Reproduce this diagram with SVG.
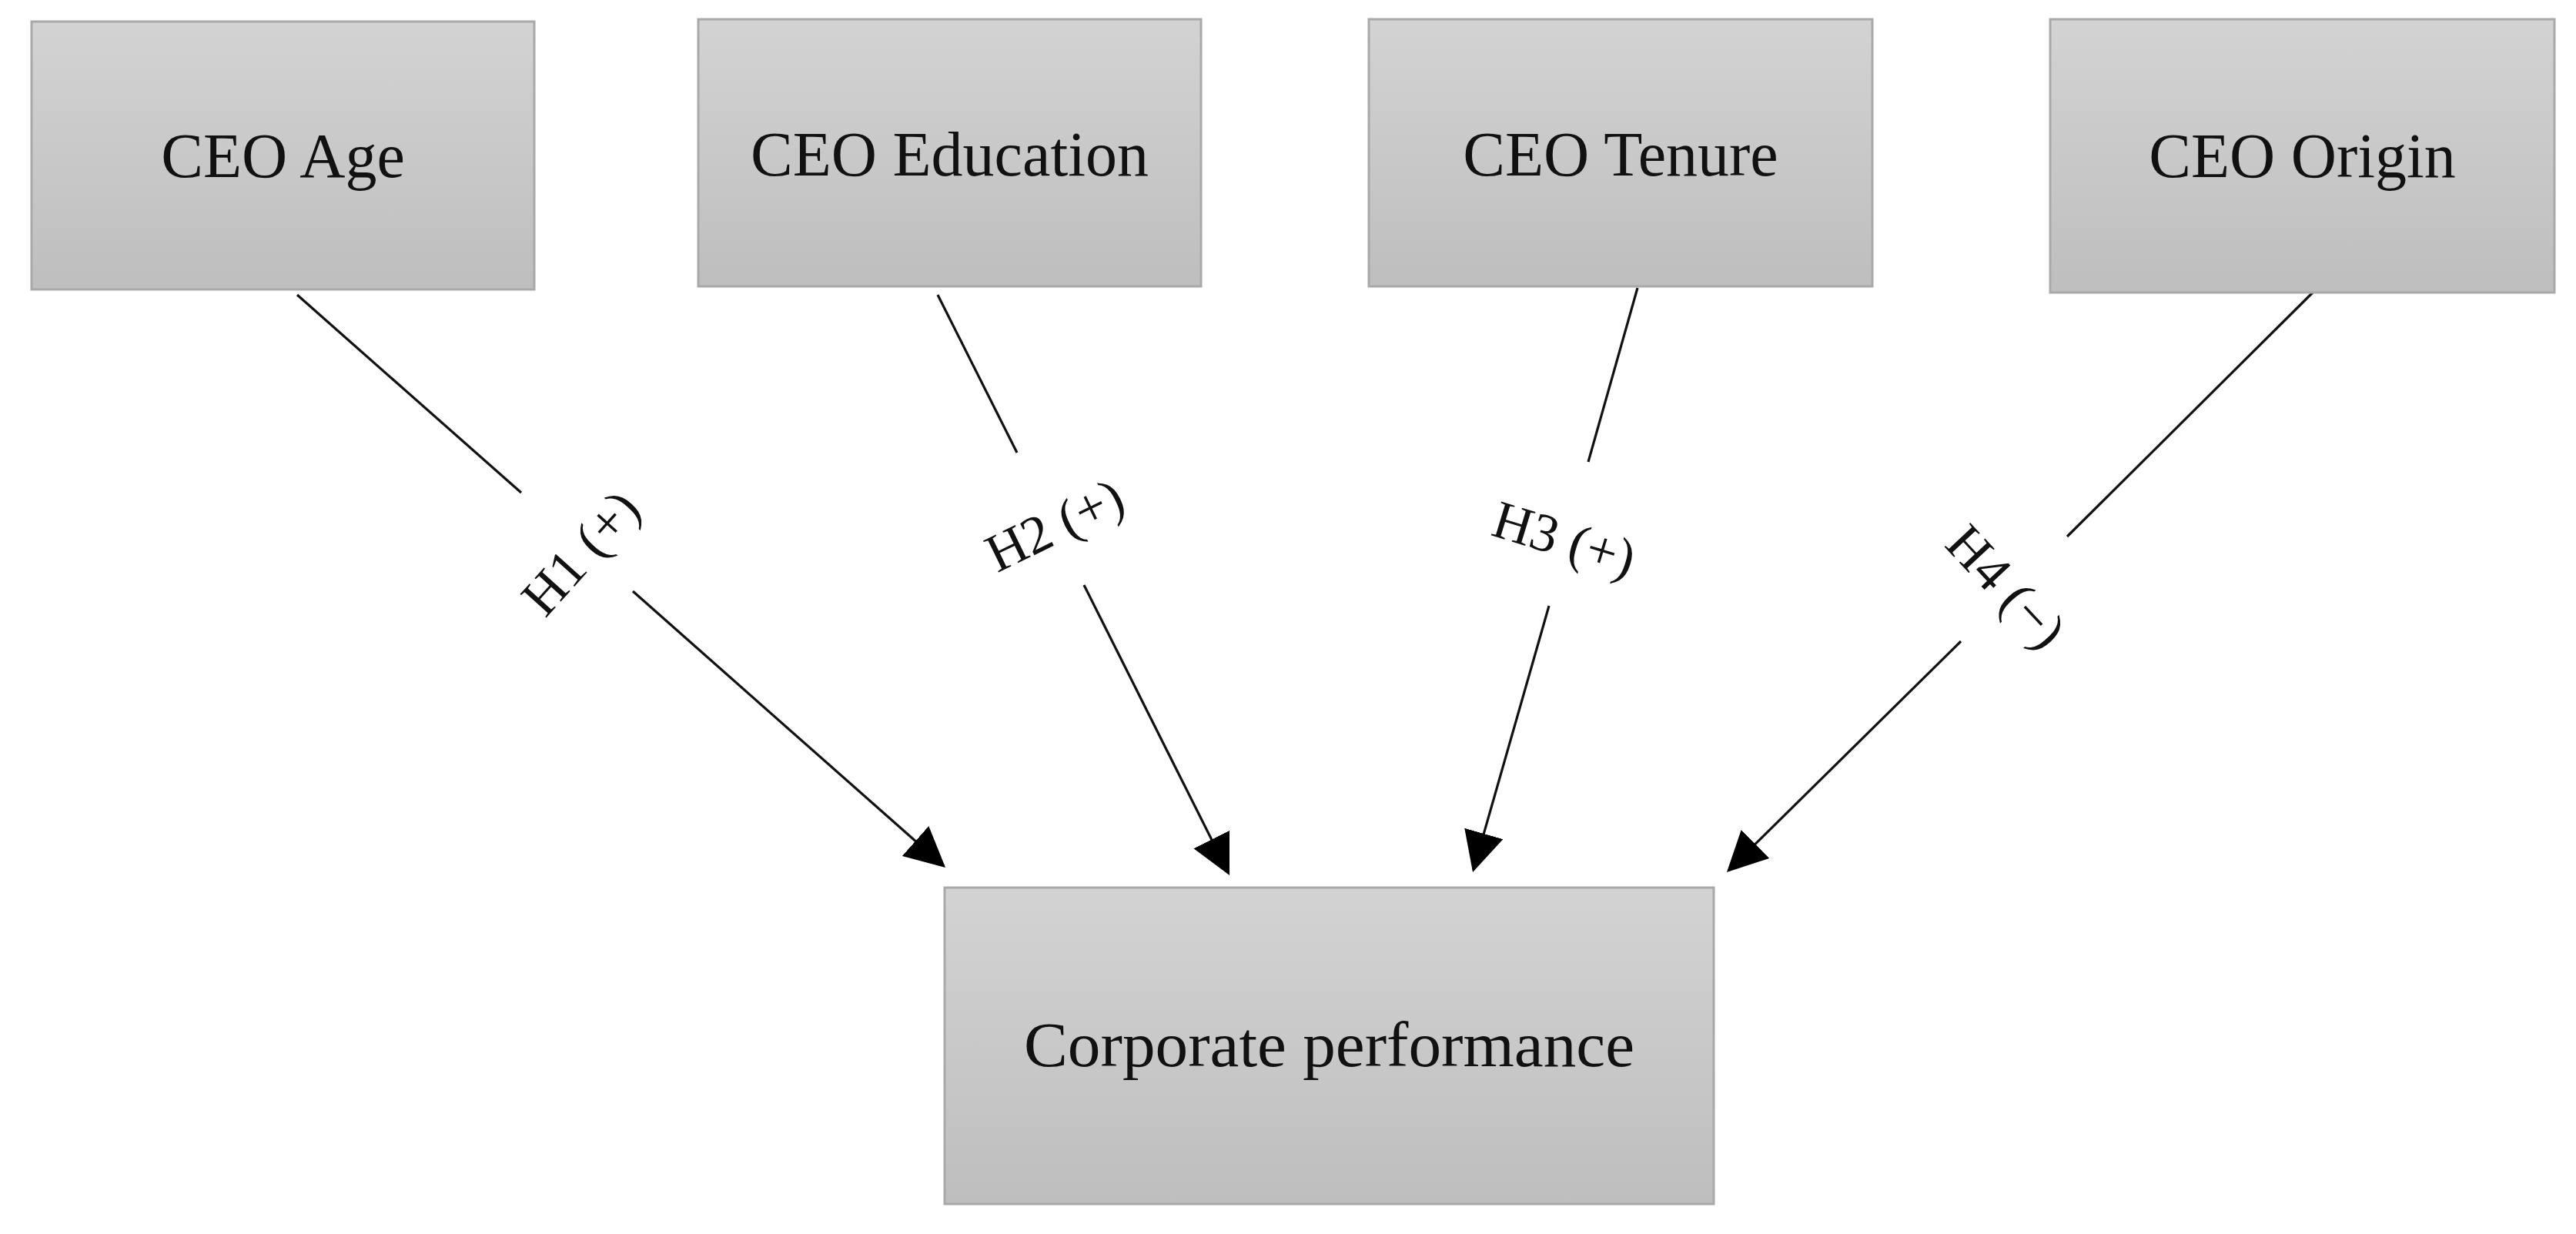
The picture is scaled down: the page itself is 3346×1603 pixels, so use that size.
<svg xmlns="http://www.w3.org/2000/svg" width="3346" height="1603" viewBox="0 0 3346 1603">
  <defs>
    <linearGradient id="boxFill" x1="0" y1="0" x2="0" y2="1">
      <stop offset="0" stop-color="#d3d3d3"/>
      <stop offset="1" stop-color="#bebebe"/>
    </linearGradient>
    <marker id="arrow" markerUnits="userSpaceOnUse" markerWidth="56" markerHeight="54" refX="49" refY="26" orient="auto" viewBox="0 0 56 54">
      <path d="M0,0 L52,26 L0,52 Z" fill="#000"/>
    </marker>
    <style>
      .box { fill: url(#boxFill); stroke: #a9a9a9; stroke-width: 3; }
      .lbl { font-family: "Liberation Serif", "Times New Roman", serif; font-size: 82px; fill: #111; text-anchor: middle; }
      .hyp { font-family: "Liberation Serif", "Times New Roman", serif; font-size: 70px; fill: #111; text-anchor: middle; dominant-baseline: central; }
      .con { stroke: #111; stroke-width: 3.2; fill: none; }
    </style>
  </defs>
  <rect width="3346" height="1603" fill="#fff"/>

  <g id="connectors">
    <g id="c-h1">
      <line class="con" x1="386" y1="383" x2="677" y2="640"/>
      <line class="con" x1="822" y1="768" x2="1225.8" y2="1125" marker-end="url(#arrow)"/>
      <text class="hyp" transform="translate(754,718) rotate(-48)">H1 (+)</text>
    </g>
    <g id="c-h2">
      <line class="con" x1="1218" y1="383" x2="1321" y2="588"/>
      <line class="con" x1="1408" y1="760" x2="1595.7" y2="1134.3" marker-end="url(#arrow)"/>
      <text class="hyp" transform="translate(1370,682) rotate(-26)">H2 (+)</text>
    </g>
    <g id="c-h3">
      <line class="con" x1="2127" y1="374" x2="2063" y2="600"/>
      <line class="con" x1="2012" y1="787" x2="1913.8" y2="1130.1" marker-end="url(#arrow)"/>
      <text class="hyp" transform="translate(2032,700) rotate(17)">H3 (+)</text>
    </g>
    <g id="c-h4">
      <line class="con" x1="3004" y1="380" x2="2685" y2="697"/>
      <line class="con" x1="2547" y1="833" x2="2245.1" y2="1130.9" marker-end="url(#arrow)"/>
      <text class="hyp" transform="translate(2606,762) rotate(47)">H4 (−)</text>
    </g>
  </g>

  <g id="ceo-age">
    <rect class="box" x="41" y="28" width="653" height="348"/>
    <text class="lbl" x="367.5" y="230">CEO Age</text>
  </g>
  <g id="ceo-education">
    <rect class="box" x="907" y="25" width="653" height="347"/>
    <text class="lbl" x="1233.5" y="228">CEO Education</text>
  </g>
  <g id="ceo-tenure">
    <rect class="box" x="1778" y="25" width="654" height="347"/>
    <text class="lbl" x="2105" y="228">CEO Tenure</text>
  </g>
  <g id="ceo-origin">
    <rect class="box" x="2663" y="25" width="655" height="355"/>
    <text class="lbl" x="2990.5" y="230">CEO Origin</text>
  </g>
  <g id="corporate-performance">
    <rect class="box" x="1227" y="1153" width="999" height="411"/>
    <text class="lbl" x="1726.5" y="1385" textLength="793" lengthAdjust="spacingAndGlyphs">Corporate performance</text>
  </g>
</svg>
